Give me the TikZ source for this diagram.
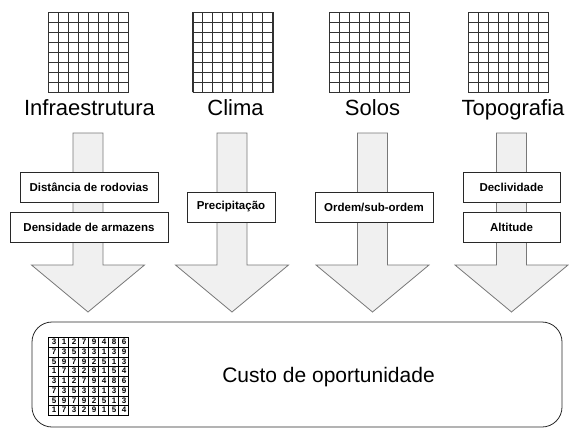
\documentclass[tikz,border=0pt]{standalone}
\usepackage{fontspec}
\setmainfont{Liberation Sans}
\usepackage{xcolor}
\definecolor{GridLine}{RGB}{50,50,50}
\definecolor{ArrowLine}{RGB}{120,120,120}
\definecolor{ArrowFill}{RGB}{240,240,240}
\definecolor{BoxLine}{RGB}{40,40,40}
\usetikzlibrary{positioning}

\begin{document}
\begin{tikzpicture}[
  x=1pt, y=-1pt,
  raster/.style={draw=GridLine, line width=0.8pt, minimum width=80pt,
                 minimum height=80pt, inner sep=0pt},
  theme/.style={font=\fontsize{22}{24}\selectfont, inner sep=0pt, anchor=base},
  bigarrow/.style={draw=ArrowLine, fill=ArrowFill, line width=0.8pt},
  tag/.style={rectangle, draw=BoxLine, fill=white, line width=0.8pt,
              minimum height=30pt, inner xsep=9pt,
              font=\bfseries\fontsize{11.5}{13}\selectfont},
  result/.style={rectangle, rounded corners=20pt, draw=BoxLine, line width=0.8pt,
                 minimum width=530pt, minimum height=105pt},
  digit/.style={font=\bfseries\fontsize{8}{8}\selectfont, inner sep=0pt}
]
  \useasboundingbox (0,0) rectangle (569,428);

  % layer grids and their titles
  \foreach \name/\gx/\tx/\txt in {inf/88.5/89.5/Infraestrutura, cli/233/235.5/Clima,
                                  sol/369.5/372.5/Solos, top/508.5/513/Topografia} {
    \node[raster] (g\name) at (\gx,52) {};
    \draw[GridLine, line width=0.8pt, shift={(g\name.south west)}]
      (0,0) grid[step=10pt] (80pt,80pt);
    \node[theme] (t\name) at (\tx,115) {\txt};
  }

  % block arrows
  \foreach \ax in {88, 232, 372.5, 511.5}
    \draw[bigarrow] ({\ax-15},133) -- ({\ax+15},133) -- ({\ax+15},265)
      -- ({\ax+56.5},265) -- (\ax,312) -- ({\ax-56.5},265) -- ({\ax-15},265) -- cycle;

  % criteria
  \node[tag, minimum width=138pt] (rod) at (89,187) {Distância de rodovias};
  \node[tag, minimum width=158pt, below=10pt of rod] (arm) {Densidade de armazens};
  \node[tag, minimum width=88pt] (pre) at (231,207) {Precipitação};
  \node[tag, minimum width=118pt] (ord) at (374,207) {Ordem/sub-ordem};
  \node[tag, minimum width=97pt] (dec) at (511.5,187) {Declividade};
  \node[tag, minimum width=97pt, below=10pt of dec] (alt) {Altitude};

  % result
  \node[result] (cost) at (297,374.5) {};
  \node[raster, draw=black, minimum height=78pt] (gcost) at (88.5,376) {};
  \draw[black, line width=0.8pt, shift={(gcost.south west)}]
    (0,0) grid[xstep=10pt, ystep=9.75pt] (80pt,78pt);
  \foreach \row [count=\r] in {{3,1,2,7,9,4,8,6}, {7,3,5,3,3,1,3,9},
                               {5,9,7,9,2,5,1,3}, {1,7,3,2,9,1,5,4},
                               {3,1,2,7,9,4,8,6}, {7,3,5,3,3,1,3,9},
                               {5,9,7,9,2,5,1,3}, {1,7,3,2,9,1,5,4}}
    \foreach \d [count=\c] in \row
      \node[digit] (d\r\c) at ({44+10*\c},{337+9.75*(\r-0.5)}) {\d};
  \node[theme, font=\fontsize{21}{23}\selectfont] (costtxt) at (328.5,382)
    {Custo de oportunidade};
\end{tikzpicture}
\end{document}
